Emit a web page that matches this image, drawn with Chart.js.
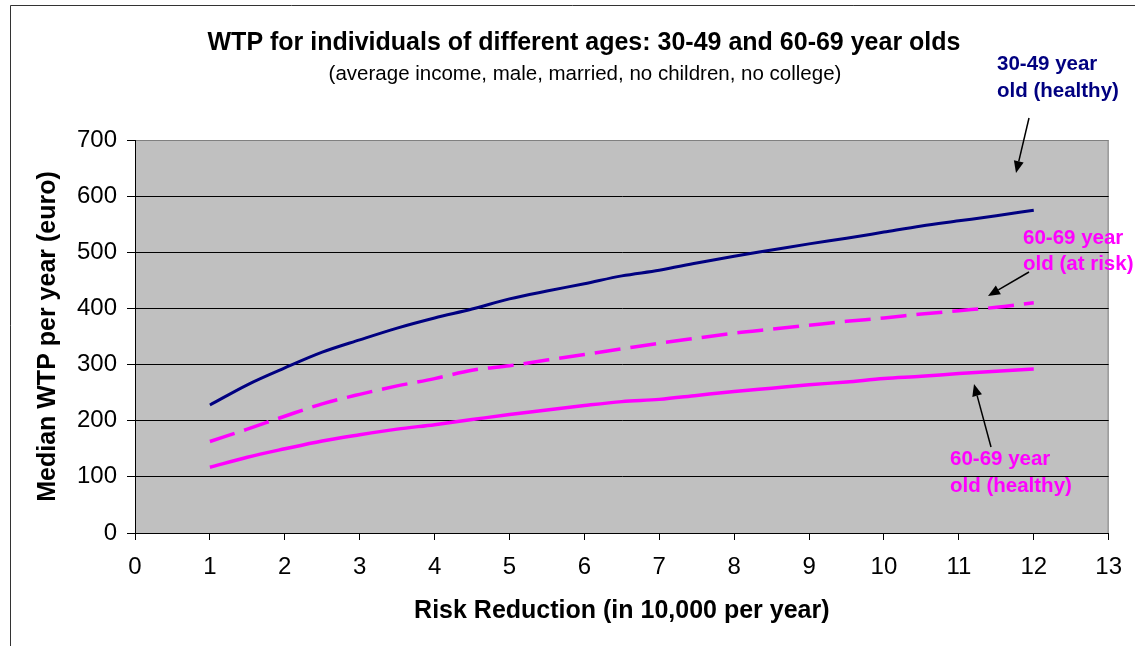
<!DOCTYPE html>
<html lang="en">
<head>
    <meta charset="UTF-8">
    <title>WTP by age</title>
    <script src="https://cdn.jsdelivr.net/npm/chart.js"></script>
    <style>
        body {
            margin: 0;
            background: #ffffff;
        }
        .chart-box {
            width: 1135px;
            height: 646px;
            position: relative;
        }
    </style>
</head>
<body>
    <div class="chart-box">
        <canvas id="wtpChart"></canvas>
    </div>

    <script>
        // Risk reduction (per 10,000 per year)
        const riskReduction = [1, 1.5, 2, 2.5, 3, 3.5, 4, 4.5, 5, 5.5, 6, 6.5, 7, 7.5, 8, 8.5, 9, 9.5, 10, 10.5, 11, 11.5, 12];

        // Median WTP per year (euro)
        const wtpYoungHealthy = [228, 264, 294, 322, 344, 365, 383, 399, 417, 431, 444, 458, 468, 481, 493, 504, 515, 525, 536, 547, 556, 565, 575];
        const wtpOldAtRisk = [163, 185, 208, 230, 247, 262, 275, 290, 298, 308, 318, 328, 338, 347, 356, 363, 370, 377, 383, 390, 396, 402, 410];
        const wtpOldHealthy = [117, 135, 150, 164, 175, 185, 193, 202, 211, 219, 227, 234, 238, 245, 252, 258, 264, 269, 275, 279, 284, 288, 292];

        const seriesNames = ["30-49 year old (healthy)", "60-69 year old (at risk)", "60-69 year old (healthy)"];

        const chartTitle = 'WTP for individuals of different ages: 30-49 and 60-69 year olds';
        const chartSubtitle = '(average income, male, married, no children, no college)';

        const FONT = 'Arial, "Liberation Sans", sans-serif';

        function toPoints(values) {
            return riskReduction.map((x, i) => ({ x: x, y: values[i] }));
        }

        // grey plot area, figure frame, titles, callout labels and arrows
        const decorations = {
            id: 'decorations',
            beforeDraw(chart) {
                const { ctx, chartArea: a } = chart;
                ctx.save();
                ctx.fillStyle = '#ffffff';
                ctx.fillRect(0, 0, chart.width, chart.height);
                ctx.strokeStyle = '#333333';
                ctx.lineWidth = 1;
                ctx.beginPath();
                ctx.moveTo(10.5, chart.height);
                ctx.lineTo(10.5, 5.5);
                ctx.lineTo(chart.width, 5.5);
                ctx.stroke();
                ctx.fillStyle = '#c0c0c0';
                ctx.fillRect(a.left, a.top, a.right - a.left, a.bottom - a.top);
                ctx.strokeStyle = '#808080';
                ctx.beginPath();
                ctx.moveTo(a.left, a.top + 0.5);
                ctx.lineTo(a.right - 0.5, a.top + 0.5);
                ctx.lineTo(a.right - 0.5, a.bottom);
                ctx.stroke();

                // title block (centred a little right of the canvas middle, like the original)
                ctx.fillStyle = '#000';
                ctx.textAlign = 'center';
                ctx.textBaseline = 'middle';
                ctx.font = 'bold 25px ' + FONT;
                ctx.fillText(chartTitle, 584, 43);
                ctx.font = '20.5px ' + FONT;
                ctx.fillText(chartSubtitle, 585, 74);
                ctx.restore();
            },
            afterDraw(chart) {
                const ctx = chart.ctx;
                ctx.save();
                ctx.font = 'bold 20.5px ' + FONT;
                ctx.textBaseline = 'middle';
                ctx.textAlign = 'left';

                ctx.fillStyle = '#000080';
                ctx.fillText('30-49 year', 997, 64);
                ctx.fillText('old (healthy)', 997, 91);

                ctx.fillStyle = '#ff00ff';
                ctx.fillText('60-69 year', 1023, 238);
                ctx.fillText('old (at risk)', 1023, 264);
                ctx.fillText('60-69 year', 950, 459);
                ctx.fillText('old (healthy)', 950, 486);

                arrow(ctx, 1029, 118, 1016, 173);
                arrow(ctx, 1029, 272, 988, 296);
                arrow(ctx, 991, 447, 974, 384);
                ctx.restore();
            }
        };

        function arrow(ctx, x1, y1, x2, y2) {
            const ang = Math.atan2(y2 - y1, x2 - x1);
            const len = 12, half = 5;
            const bx = x2 - len * Math.cos(ang), by = y2 - len * Math.sin(ang);
            ctx.strokeStyle = '#000';
            ctx.fillStyle = '#000';
            ctx.lineWidth = 1.5;
            ctx.beginPath();
            ctx.moveTo(x1, y1);
            ctx.lineTo(bx, by);
            ctx.stroke();
            ctx.beginPath();
            ctx.moveTo(x2, y2);
            ctx.lineTo(bx + half * Math.sin(ang), by - half * Math.cos(ang));
            ctx.lineTo(bx - half * Math.sin(ang), by + half * Math.cos(ang));
            ctx.closePath();
            ctx.fill();
        }

        const ctx = document.getElementById('wtpChart').getContext('2d');
        new Chart(ctx, {
            type: 'line',
            data: {
                datasets: [
                    {
                        label: seriesNames[0],
                        data: toPoints(wtpYoungHealthy),
                        borderColor: '#000080',
                        borderWidth: 3,
                        pointRadius: 0,
                        cubicInterpolationMode: 'monotone'
                    },
                    {
                        label: seriesNames[1],
                        data: toPoints(wtpOldAtRisk),
                        borderColor: '#ff00ff',
                        borderWidth: 3.5,
                        borderDash: [26, 10],
                        pointRadius: 0,
                        cubicInterpolationMode: 'monotone'
                    },
                    {
                        label: seriesNames[2],
                        data: toPoints(wtpOldHealthy),
                        borderColor: '#ff00ff',
                        borderWidth: 3.5,
                        pointRadius: 0,
                        cubicInterpolationMode: 'monotone'
                    }
                ]
            },
            options: {
                responsive: true,
                maintainAspectRatio: false,
                animation: false,
                layout: {
                    padding: { left: 12, right: 21, top: 140, bottom: 6 }
                },
                plugins: {
                    legend: { display: false },
                    tooltip: { enabled: false }
                },
                scales: {
                    x: {
                        type: 'linear',
                        min: 0,
                        max: 13,
                        afterFit(scale) { scale.height = 107; },
                        border: { color: '#000', width: 1 },
                        grid: {
                            drawOnChartArea: false,
                            tickLength: 7,
                            tickColor: '#000'
                        },
                        ticks: {
                            stepSize: 1,
                            color: '#000',
                            padding: 13,
                            font: { family: FONT, size: 24 }
                        },
                        title: {
                            display: true,
                            text: 'Risk Reduction (in 10,000 per year)',
                            color: '#000',
                            font: { family: FONT, size: 25, weight: 'bold' },
                            padding: { top: 0, bottom: 14 }
                        }
                    },
                    y: {
                        min: 0,
                        max: 700,
                        afterFit(scale) { scale.width = 123; },
                        border: { color: '#000', width: 1 },
                        grid: {
                            color: (c) => (c.tick && c.tick.value === 700 ? '#808080' : '#000'),
                            tickColor: '#000',
                            tickLength: 8
                        },
                        ticks: {
                            stepSize: 100,
                            color: '#000',
                            padding: 10,
                            font: { family: FONT, size: 24 }
                        },
                        title: {
                            display: true,
                            text: 'Median WTP per year (euro)',
                            color: '#000',
                            font: { family: FONT, size: 25, weight: 'bold' },
                            padding: { top: 21, bottom: 0 }
                        }
                    }
                }
            },
            plugins: [decorations]
        });
    </script>
</body>
</html>
